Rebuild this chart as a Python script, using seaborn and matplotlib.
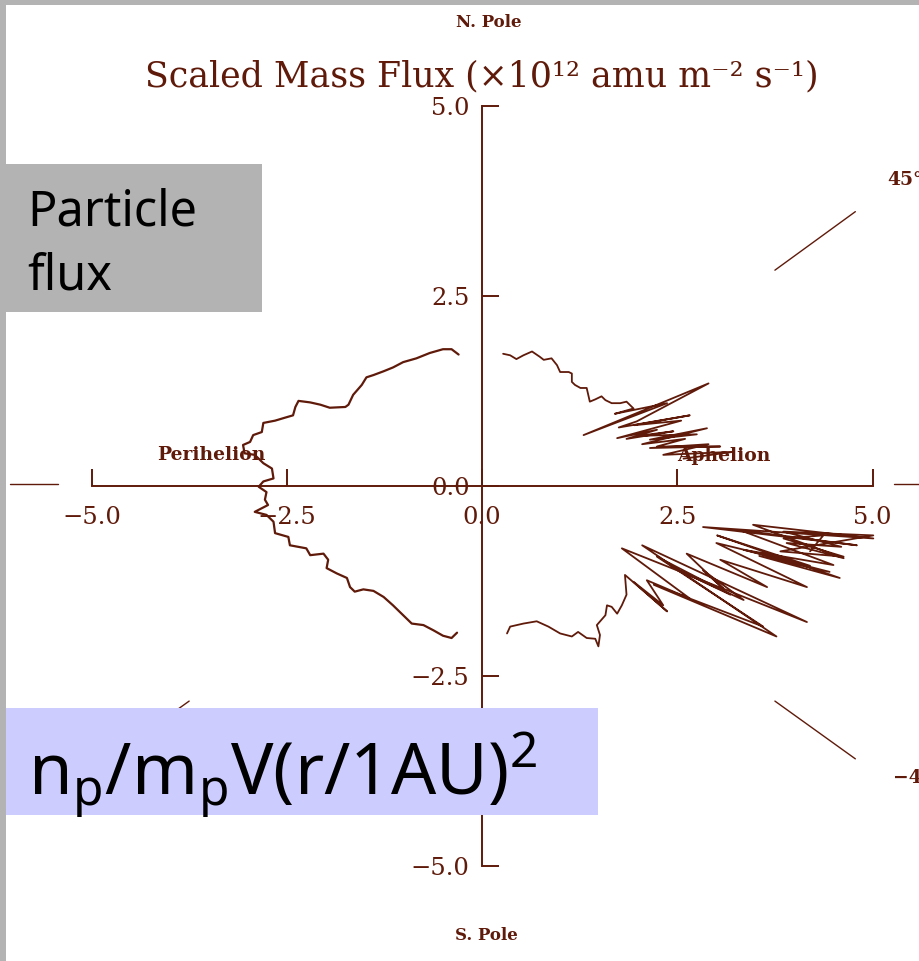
import matplotlib
matplotlib.use("Agg")
import matplotlib.pyplot as plt
from matplotlib.patches import Rectangle
import seaborn as sns

sns.set_theme(style="white")
plt.rcParams["font.family"] = ["DejaVu Serif", "DejaVu Sans"]
plt.rcParams["mathtext.fontset"] = "custom"
plt.rcParams["mathtext.rm"] = "Noto Sans"
plt.rcParams["mathtext.it"] = "Noto Sans"

INK = "#5f1a0a"

# Perihelion pass (fast latitude scan), north to south
peri_x = [-0.30, -0.39, -0.50, -0.67, -0.84, -1.01, -1.14, -1.26, -1.39, -1.48,
          -1.54, -1.65, -1.71, -1.75, -1.95, -2.07, -2.20, -2.35, -2.39, -2.42,
          -2.52, -2.65, -2.80, -2.82, -2.93, -2.97, -3.06, -3.04, -2.91, -2.80,
          -2.69, -2.67, -2.80, -2.86, -2.76, -2.78, -2.74, -2.91, -2.76, -2.67,
          -2.65, -2.48, -2.46, -2.25, -2.20, -2.03, -1.97, -1.99, -1.86, -1.73,
          -1.69, -1.63, -1.52, -1.39, -1.26, -1.14, -1.01, -0.90, -0.75, -0.62,
          -0.50, -0.39, -0.32]
peri_y = [1.73, 1.80, 1.80, 1.75, 1.68, 1.63, 1.56, 1.51, 1.46, 1.43,
          1.33, 1.20, 1.07, 1.04, 1.03, 1.07, 1.10, 1.12, 1.04, 0.93,
          0.90, 0.86, 0.83, 0.71, 0.67, 0.58, 0.54, 0.43, 0.41, 0.30,
          0.23, 0.10, 0.06, -0.01, -0.08, -0.18, -0.25, -0.34, -0.38, -0.47,
          -0.62, -0.67, -0.78, -0.82, -0.91, -0.89, -0.97, -1.08, -1.15, -1.21,
          -1.33, -1.39, -1.36, -1.38, -1.46, -1.57, -1.70, -1.81, -1.83, -1.90,
          -1.97, -2.00, -1.93]

# Aphelion, northern arc
aph_n_x = [0.27, 0.36, 0.44, 0.53, 0.64, 0.74, 0.79, 0.89, 0.96, 1.00,
           1.11, 1.15, 1.15, 1.19, 1.26, 1.34, 1.36, 1.38, 1.45, 1.53,
           1.58, 1.66, 1.77, 1.85, 1.94, 1.70, 2.37, 1.30, 2.90, 1.98,
           1.75, 2.66, 1.95, 2.55, 1.73, 2.24, 1.85, 2.45, 2.00, 2.75,
           2.15, 2.88, 2.05, 2.60, 2.24, 3.05, 2.15, 2.90, 2.32, 3.22,
           2.58]
aph_n_y = [1.74, 1.72, 1.67, 1.72, 1.77, 1.70, 1.66, 1.68, 1.59, 1.50,
           1.50, 1.48, 1.37, 1.33, 1.29, 1.29, 1.20, 1.11, 1.14, 1.18,
           1.13, 1.09, 1.09, 1.11, 1.02, 0.95, 1.09, 0.67, 1.35, 0.85,
           0.77, 0.93, 0.80, 0.86, 0.63, 0.74, 0.62, 0.72, 0.66, 0.68,
           0.61, 0.76, 0.55, 0.62, 0.52, 0.52, 0.50, 0.55, 0.41, 0.45,
           0.36]

# Aphelion, southern arc
aph_s_x = [0.32, 0.36, 0.53, 0.70, 0.85, 1.00, 1.15, 1.23, 1.34, 1.45,
           1.49, 1.51, 1.47, 1.58, 1.60, 1.66, 1.73, 1.79, 1.85, 1.83,
           2.37, 1.94, 2.32, 2.11, 2.66, 1.79, 4.16, 2.05, 3.77, 2.20,
           3.60, 2.24, 3.18, 2.50, 3.35, 2.83, 3.09, 2.62, 3.65, 3.05,
           4.16, 3.00, 4.20, 3.01, 4.58, 3.55, 4.45, 3.35, 4.50, 3.30,
           4.80, 2.83, 5.01, 3.47, 4.63, 3.90, 4.60, 3.86, 5.01, 3.82,
           4.63, 3.86, 4.37, 4.20]
aph_s_y = [-1.94, -1.85, -1.81, -1.78, -1.85, -1.94, -1.98, -1.92, -2.00, -2.01,
           -2.11, -1.96, -1.83, -1.70, -1.57, -1.59, -1.68, -1.57, -1.43, -1.17,
           -1.65, -1.26, -1.57, -1.24, -1.48, -0.82, -1.79, -0.78, -1.98, -1.30,
           -1.85, -0.93, -1.43, -1.10, -1.50, -1.11, -1.35, -0.89, -1.33, -0.97,
           -1.33, -0.75, -1.05, -0.65, -1.21, -0.92, -1.13, -0.84, -1.04, -0.58,
           -0.78, -0.54, -0.69, -0.51, -0.95, -0.75, -0.80, -0.60, -0.65, -0.86,
           -0.93, -0.69, -0.65, -0.86]

# Latitude guide segments (start/end in plot units)
guide_x = [[3.75, 4.78], [3.75, 4.78], [-3.75, -4.78], [-3.75, -4.78],
           [5.27, 5.80], [-5.43, -6.05]]
guide_y = [[2.84, 3.61], [-2.83, -3.59], [2.84, 3.61], [-2.83, -3.59],
           [0.02, 0.02], [0.02, 0.02]]
guide_labels = ["45\u00b0", "\u221245\u00b0"]

tick_values = [-5.0, -2.5, 0.0, 2.5, 5.0]
tick_labels = ["\u22125.0", "\u22122.5", "0.0", "2.5", "5.0"]

fig = plt.figure(figsize=(9.19, 9.61), dpi=100)
fig.patch.set_facecolor("white")
ax = fig.add_axes([0, 0, 1, 1])
ax.set_facecolor("white")
ax.set_xlim(-6.172, 5.595)
ax.set_ylim(-6.25, 6.395)

for gx, gy in zip(guide_x, guide_y):
    sns.lineplot(x=gx, y=gy, sort=False, estimator=None, color=INK, lw=1.0, ax=ax)

sns.lineplot(x=peri_x, y=peri_y, sort=False, estimator=None, color=INK, lw=1.6, ax=ax)
for cx, cy in [(aph_n_x, aph_n_y), (aph_s_x, aph_s_y)]:
    sns.lineplot(x=cx, y=cy, sort=False, estimator=None, color=INK, lw=1.3, ax=ax)

# Crossed axes through the origin
for side in ["top", "right"]:
    ax.spines[side].set_visible(False)
for side in ["left", "bottom"]:
    ax.spines[side].set_position(("data", 0))
    ax.spines[side].set_bounds(-5, 5)
    ax.spines[side].set_color(INK)
    ax.spines[side].set_linewidth(1.4)
ax.set_xticks(tick_values, tick_labels)
ax.set_yticks(tick_values, tick_labels)
ax.tick_params(bottom=True, left=True, top=False, right=False,
               direction="in", length=12, width=1.4, colors=INK, labelsize=17.5)
ax.tick_params(axis="x", pad=14.5)
ax.tick_params(axis="y", pad=9)
ax.set_xlabel("")
ax.set_ylabel("")
ax.grid(False)

ax.text(0.0, 5.39, "Scaled Mass Flux (\u00d710\u00b9\u00b2 amu m\u207b\u00b2 s\u207b\u00b9)",
        ha="center", va="center", fontsize=25, color=INK)
ax.text(0.08, 6.10, "N. Pole", ha="center", va="center", fontsize=12,
        fontweight="bold", color=INK)
ax.text(0.05, -5.91, "S. Pole", ha="center", va="center", fontsize=12,
        fontweight="bold", color=INK)
ax.text(-3.47, 0.41, "Perihelion", ha="center", va="center", fontsize=13.5,
        fontweight="bold", color=INK)
ax.text(3.09, 0.40, "Aphelion", ha="center", va="center", fontsize=13.5,
        fontweight="bold", color=INK)
ax.text(5.19, 4.03, guide_labels[0], ha="left", va="center", fontsize=13.5,
        fontweight="bold", color=INK)
ax.text(5.26, -3.84, guide_labels[1], ha="left", va="center", fontsize=13.5,
        fontweight="bold", color=INK)

# Annotation panels and frame
W, H = 919.0, 961.0
def fig_rect(x0, y0, x1, y1, color, z):
    fig.patches.append(Rectangle((x0 / W, 1 - y1 / H), (x1 - x0) / W, (y1 - y0) / H,
                                 transform=fig.transFigure, facecolor=color,
                                 edgecolor="none", zorder=z))

fig_rect(6, 164, 262, 312, "#b3b3b3", 10)
fig_rect(6, 708, 598, 815, "#ccccff", 10)
fig_rect(0, 0, 6, 961, "#b3b3b3", 11)
fig_rect(0, 0, 919, 5, "#b3b3b3", 11)

fig.text(27 / W, 1 - 225 / H, "Particle", fontsize=35, family="Noto Sans",
         color="black", va="baseline", zorder=12)
fig.text(27 / W, 1 - 290 / H, "flux", fontsize=35, family="Noto Sans",
         color="black", va="baseline", zorder=12)
fig.text(28 / W, 1 - 795 / H, r"n$_\mathrm{p}$/m$_\mathrm{p}$V(r/1AU)$^\mathrm{2}$",
         fontsize=51, family="Noto Sans", color="black", va="baseline", zorder=12)

fig.savefig("out.png", dpi=100)
